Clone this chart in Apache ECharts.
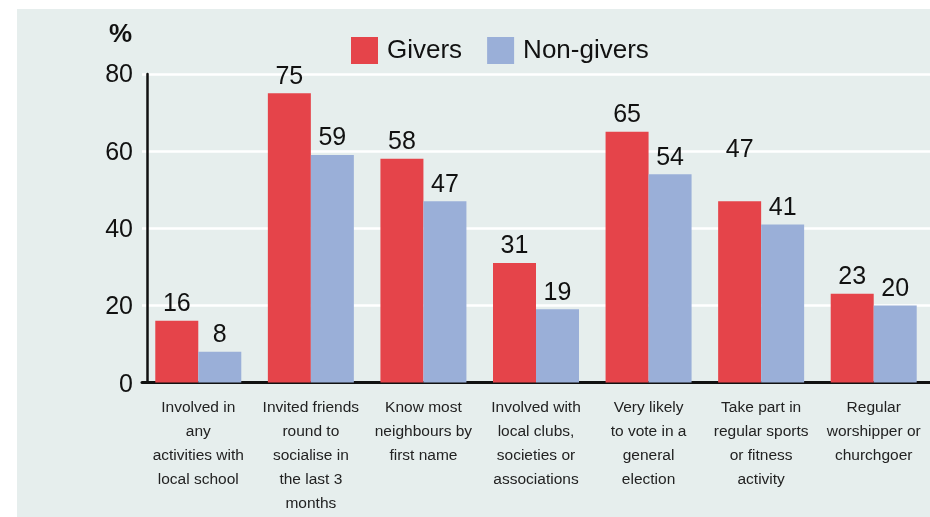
<!DOCTYPE html>
<html>
<head>
<meta charset="utf-8">
<script src="https://cdn.jsdelivr.net/npm/echarts@6/dist/echarts.min.js"></script>
<style>
  html, body { margin: 0; padding: 0; background: #ffffff; }
  #bg { position: absolute; left: 17px; top: 9px; right: 0; bottom: 0; background: #e6eeed; }
  #chart { position: absolute; left: 0; top: 0; width: 930px; height: 517px; }
</style>
</head>
<body>
<div id="bg"></div>
<div id="chart"></div>
<script>
const categories = [
  ["Involved in", "any", "activities with", "local school"],
  ["Invited friends", "round to", "socialise in", "the last 3", "months"],
  ["Know most", "neighbours by", "first name"],
  ["Involved with", "local clubs,", "societies or", "associations"],
  ["Very likely", "to vote in a", "general", "election"],
  ["Take part in", "regular sports", "or fitness", "activity"],
  ["Regular", "worshipper or", "churchgoer"]
];
const givers = [16, 75, 58, 31, 65, 47, 23];
const nonGivers = [8, 59, 47, 19, 54, 41, 20];
const yTicks = [0, 20, 40, 60, 80];

const FONT = '"Liberation Sans", Arial, Helvetica, sans-serif';
const chart = echarts.init(document.getElementById('chart'), null, { renderer: 'canvas' });

const labelBase = {
  show: true,
  position: 'top',
  distance: 4,
  fontFamily: FONT,
  fontSize: 25,
  color: '#111'
};

const giverData = givers.map((v, i) => {
  // the "47" label of the sports group sits higher in the original
  if (i === 5) return { value: v, label: { distance: 39 } };
  return v;
});

chart.setOption({
  animation: false,
  backgroundColor: 'transparent',
  title: {
    text: '%',
    left: 109,
    top: 22,
    padding: 0,
    textStyle: { fontFamily: FONT, fontSize: 26, fontWeight: 'bold', color: '#111' }
  },
  legend: {
    left: 351,
    top: 37,
    padding: 0,
    icon: 'rect',
    itemWidth: 27,
    itemHeight: 27,
    itemGap: 25,
    textStyle: { fontFamily: FONT, fontSize: 26, color: '#111', padding: [0, 0, 0, 4] },
    data: ['Givers', 'Non-givers']
  },
  grid: {
    left: 142,
    top: 74,
    width: 790,
    height: 308.5,
    containLabel: false
  },
  xAxis: {
    type: 'category',
    data: categories.map(c => c.join('\n')),
    axisLine: { show: true, lineStyle: { color: '#111', width: 3 } },
    axisTick: { show: false },
    axisLabel: {
      interval: 0,
      margin: 13,
      fontFamily: FONT,
      fontSize: 15.5,
      lineHeight: 24,
      color: '#222',
      align: 'center'
    }
  },
  yAxis: {
    type: 'value',
    min: yTicks[0],
    max: yTicks[yTicks.length - 1],
    interval: yTicks[1] - yTicks[0],
    offset: -5,
    axisLine: { show: true, lineStyle: { color: '#111', width: 2.5 } },
    axisTick: { show: false },
    splitLine: { show: true, lineStyle: { color: '#ffffff', width: 2.5 } },
    axisLabel: {
      margin: 14,
      fontFamily: FONT,
      fontSize: 25,
      color: '#111',
      formatter: v => v === 0 ? '{z|0}' : '{n|' + v + '}',
      rich: {
        z: { fontFamily: FONT, fontSize: 25, color: '#111', padding: [6, 0, 0, 0] },
        n: { fontFamily: FONT, fontSize: 25, color: '#111', padding: [3, 0, 0, 0] }
      }
    }
  },
  series: [
    {
      name: 'Givers',
      type: 'bar',
      data: giverData,
      barWidth: 43,
      barGap: '0%',
      itemStyle: { color: '#e5444a' },
      label: labelBase
    },
    {
      name: 'Non-givers',
      type: 'bar',
      data: nonGivers,
      barWidth: 43,
      barGap: '0%',
      itemStyle: { color: '#9aafd8' },
      label: labelBase
    }
  ]
});
</script>
</body>
</html>
